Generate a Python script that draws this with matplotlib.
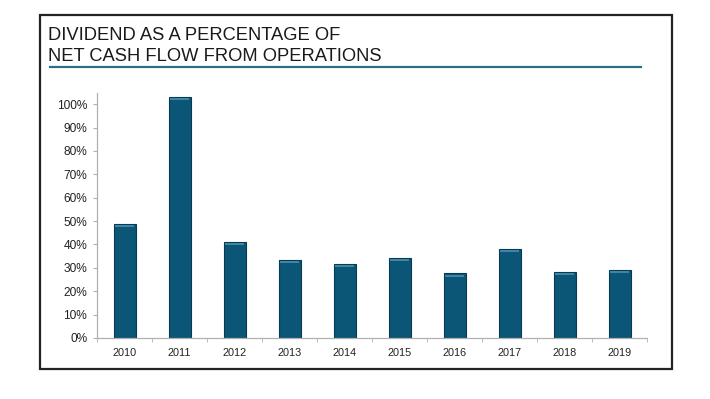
import matplotlib

matplotlib.use("Agg")

import matplotlib.pyplot as plt
from matplotlib.patches import Rectangle
from matplotlib.lines import Line2D
from matplotlib.ticker import FuncFormatter, FixedLocator
import numpy as np

years = ["2010", "2011", "2012", "2013", "2014", "2015", "2016", "2017", "2018", "2019"]
payout = [0.486, 1.031, 0.410, 0.333, 0.316, 0.342, 0.276, 0.379, 0.282, 0.292]
title_lines = ["DIVIDEND AS A PERCENTAGE OF", "NET CASH FLOW FROM OPERATIONS"]

BAR = "#0b5577"
EDGE = "#083a52"
HILITE = "#4d8fb0"
TEAL = "#2f6f86"

plt.rcParams["font.family"] = ["Liberation Sans", "DejaVu Sans"]

fig = plt.figure(figsize=(7.10, 3.99), dpi=100)
fig.patch.set_facecolor("white")

# outer frame and title rule
fig.add_artist(Rectangle((40 / 710, 30 / 399), 632 / 710, 354 / 399,
                         transform=fig.transFigure, fill=False,
                         edgecolor="#222222", linewidth=1.6))
fig.add_artist(Line2D([50 / 710, 641 / 710], [332 / 399, 332 / 399],
                      transform=fig.transFigure, color=TEAL, linewidth=1.6))
for i, line in enumerate(title_lines):
    fig.text(48 / 710, (359 - 21 * i) / 399, line, fontsize=13.2,
             color="#1a1a1a", va="baseline", ha="left")

ax = fig.add_axes([97 / 710, 61 / 399, 550 / 710, 245.5 / 399])
x = np.arange(len(years))
vals = np.array(payout)
ax.bar(x, vals, width=0.4, color=BAR, edgecolor=EDGE, linewidth=0.8, zorder=2)
# light stripe just under each bar top
ax.hlines(vals - 0.009, x - 0.17, x + 0.17, color=HILITE, linewidth=1.2, zorder=3)

ax.set_xlim(-0.5, len(years) - 0.5)
ax.set_ylim(0, 1.05)
ax.set_yticks(np.arange(0, 1.01, 0.1))
ax.yaxis.set_major_formatter(FuncFormatter(lambda v, _: f"{v * 100:.0f}%"))
ax.set_xticks(x)
ax.set_xticklabels(years)
ax.xaxis.set_minor_locator(FixedLocator(np.arange(-0.5, len(years), 1.0)))
ax.tick_params(axis="x", which="major", length=0, pad=7, labelsize=7.8, colors="#222222")
ax.tick_params(axis="x", which="minor", length=3, color="#b0b0b0")
ax.tick_params(axis="y", length=3, pad=4, labelsize=8.6, color="#b0b0b0", labelcolor="#222222")
for s in ("top", "right"):
    ax.spines[s].set_visible(False)
for s in ("left", "bottom"):
    ax.spines[s].set_color("#b0b0b0")
    ax.spines[s].set_linewidth(0.9)

fig.savefig("out.png", dpi=100)
plt.close(fig)
